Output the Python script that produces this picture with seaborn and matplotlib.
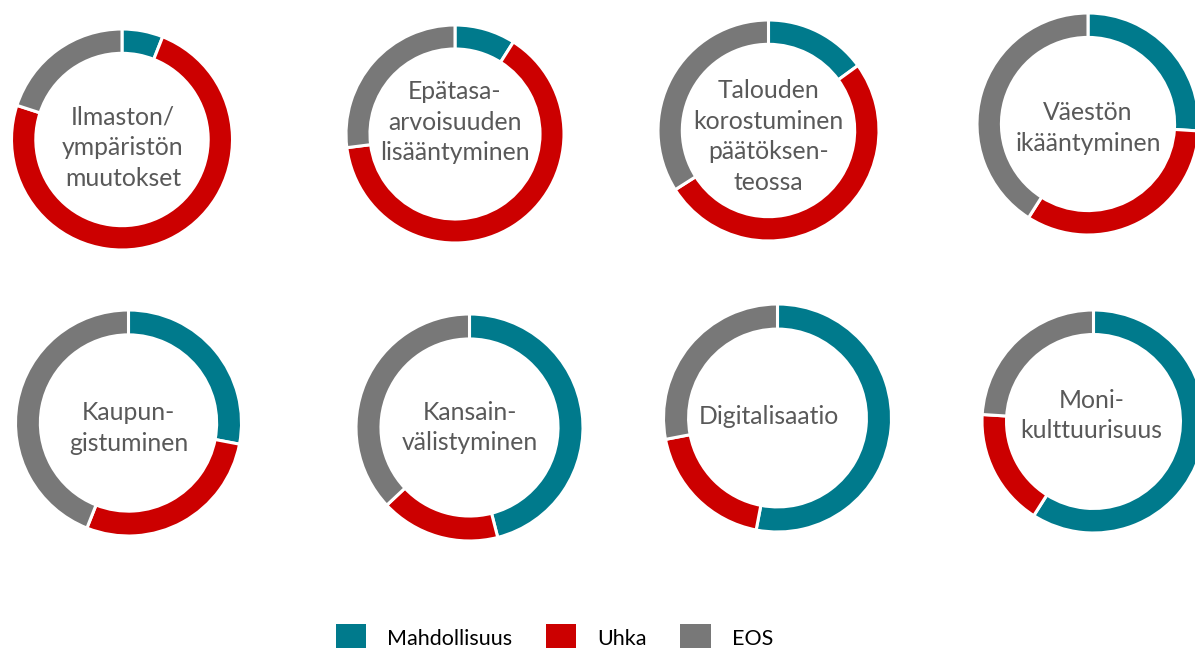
import matplotlib
matplotlib.use('Agg')
import matplotlib.pyplot as plt
from matplotlib.patches import Patch
import seaborn as sns
import numpy as np

# data
topics = ['Ilmaston/\nympäristön\nmuutokset',
          'Epätasa-\narvoisuuden\nlisääntyminen',
          'Talouden\nkorostuminen\npäätöksen-\nteossa',
          'Väestön\nikääntyminen',
          'Kaupun-\ngistuminen',
          'Kansain-\nvälistyminen',
          'Digitalisaatio',
          'Moni-\nkulttuurisuus']
series = ['Mahdollisuus', 'Uhka', 'EOS']
mahdollisuus = [6, 9, 15, 26, 28, 46, 53, 59]
uhka = [74, 64, 51, 33, 28, 17, 19, 17]
eos = [20, 27, 34, 41, 44, 37, 28, 24]

colors = ['#007A8C', '#CC0000', '#787878']

# layout in pixels (center x, center y, radius)
W, H = 1195, 648
centers = [(122, 139.5), (455, 134), (768.5, 130.5), (1088, 124),
           (128.5, 423), (469.5, 427.5), (777.5, 418), (1093.5, 421.5)]
radii = [110.5, 109, 110.5, 111, 113, 113.5, 114, 111.5]
text_dy = [8, -12, 6, 4, 5, 0, -2, -6]
text_dx = [1, 0, 0, 0, 0, 0, -9, -2]

sns.set_theme(style='white')
plt.rcParams['font.family'] = ['Lato', 'DejaVu Sans']

fig = plt.figure(figsize=(W / 100, H / 100), dpi=100)

for i, topic in enumerate(topics):
    cx, cy = centers[i]
    r = radii[i]
    ax = fig.add_axes([(cx - r) / W, 1 - (cy + r) / H, 2 * r / W, 2 * r / H])
    vals = [mahdollisuus[i], uhka[i], eos[i]]
    w, _ = ax.pie(vals, colors=colors, startangle=90, counterclock=False, radius=1,
                  wedgeprops=dict(width=0.22, edgecolor='white', linewidth=2.2))
    for p in w:
        p.set_clip_on(False)
    ax.set_xlim(-1, 1)
    ax.set_ylim(-1, 1)
    ax.axis('off')
    ax.text(text_dx[i] / r, -text_dy[i] / r, topic, ha='center', va='center',
            fontsize=17.8, color='#595959', linespacing=1.42)

handles = [Patch(facecolor=c, edgecolor='none') for c in colors]
fig.legend(handles, series, loc='upper center', bbox_to_anchor=(0.464, 1 - 624 / H),
           ncol=3, frameon=False, fontsize=15.5, handlelength=1.4, handleheight=1.6,
           handletextpad=1.0, columnspacing=1.55, borderpad=0, borderaxespad=0,
           labelcolor='black')

fig.savefig('out.png', dpi=100, facecolor='white')
